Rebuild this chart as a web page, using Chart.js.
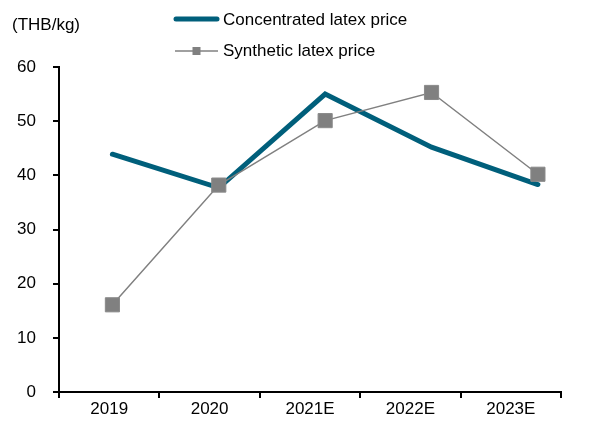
<!DOCTYPE html>
<html>
<head>
<meta charset="utf-8">
<script src="https://cdn.jsdelivr.net/npm/chart.js@4/dist/chart.umd.min.js"></script>
<style>
  html, body { margin: 0; padding: 0; background: #fff; }
  #wrap { position: relative; width: 594px; height: 423px; }
</style>
</head>
<body>
<div id="wrap"><canvas id="c" width="594" height="423"></canvas></div>
<script>
const categories = ['2019', '2020', '2021E', '2022E', '2023E'];
const concentratedLatex = [43.9, 37.7, 55.0, 45.2, 38.3];
const syntheticLatex = [16.1, 38.2, 50.1, 55.3, 40.2];
const yTicks = [0, 10, 20, 30, 40, 50, 60];
const unitLabel = '(THB/kg)';
const seriesNames = ['Concentrated latex price', 'Synthetic latex price'];

const TEAL = '#005f7b';
const GREY = '#808080';
const FONT = '"Liberation Sans", Arial, sans-serif';

const toPoints = arr => arr.map((v, i) => ({ x: i, y: v }));

const extras = {
  id: 'extras',
  afterDraw(chart) {
    const ctx = chart.ctx;
    ctx.save();
    ctx.font = '17px ' + FONT;
    ctx.fillStyle = '#000';
    ctx.textBaseline = 'middle';
    ctx.textAlign = 'left';
    ctx.fillText(unitLabel, 12, 25);
    // legend 1
    ctx.strokeStyle = TEAL;
    ctx.lineWidth = 5;
    ctx.lineCap = 'round';
    ctx.beginPath(); ctx.moveTo(176, 19); ctx.lineTo(217, 19); ctx.stroke();
    ctx.fillText(seriesNames[0], 223, 20);
    // legend 2
    ctx.strokeStyle = GREY;
    ctx.lineWidth = 1.5;
    ctx.lineCap = 'butt';
    ctx.beginPath(); ctx.moveTo(175, 51); ctx.lineTo(218, 51); ctx.stroke();
    ctx.fillStyle = GREY;
    ctx.fillRect(192.5, 47, 8, 8);
    ctx.fillStyle = '#000';
    ctx.fillText(seriesNames[1], 223, 51);
    ctx.restore();
  }
};

new Chart(document.getElementById('c'), {
  type: 'line',
  data: {
    labels: categories,
    datasets: [
      {
        label: seriesNames[0],
        data: toPoints(concentratedLatex),
        xAxisID: 'xd',
        yAxisID: 'y',
        borderColor: TEAL,
        backgroundColor: TEAL,
        borderWidth: 5,
        borderCapStyle: 'round',
        pointRadius: 0,
        pointHoverRadius: 0,
        tension: 0,
        order: 2
      },
      {
        label: seriesNames[1],
        data: toPoints(syntheticLatex),
        xAxisID: 'xd',
        yAxisID: 'y',
        borderColor: GREY,
        backgroundColor: GREY,
        borderWidth: 1.5,
        pointStyle: 'rect',
        pointRadius: 10,
        pointBorderColor: '#8a8a8a',
        pointBorderWidth: 1,
        pointBackgroundColor: GREY,
        tension: 0,
        order: 1
      }
    ]
  },
  options: {
    responsive: false,
    animation: false,
    events: [],
    layout: { padding: { top: 67, right: 33, left: 0, bottom: 0 } },
    plugins: { legend: { display: false }, tooltip: { enabled: false }, title: { display: false } },
    scales: {
      x: {
        type: 'category',
        offset: true,
        grid: { display: true, offset: true, drawOnChartArea: false, drawTicks: true, tickLength: 6, color: '#000', lineWidth: 2 },
        border: { display: true, color: '#000', width: 2 },
        ticks: { color: '#000', font: { family: FONT, size: 17 }, padding: 1, maxRotation: 0, autoSkip: false },
        afterFit(s) { s.height = 31; }
      },
      xd: {
        type: 'linear',
        display: false,
        min: -0.502,
        max: 4.217
      },
      y: {
        type: 'linear',
        min: 0,
        max: 60,
        afterBuildTicks(s) { s.ticks = yTicks.map(v => ({ value: v })); },
        grid: { display: true, drawOnChartArea: false, drawTicks: true, tickLength: 6, color: '#000', lineWidth: 2 },
        border: { display: true, color: '#000', width: 2 },
        ticks: { color: '#000', font: { family: FONT, size: 17 }, padding: 17 },
        afterFit(s) { s.width = 59; }
      }
    }
  },
  plugins: [extras]
});
</script>
</body>
</html>
